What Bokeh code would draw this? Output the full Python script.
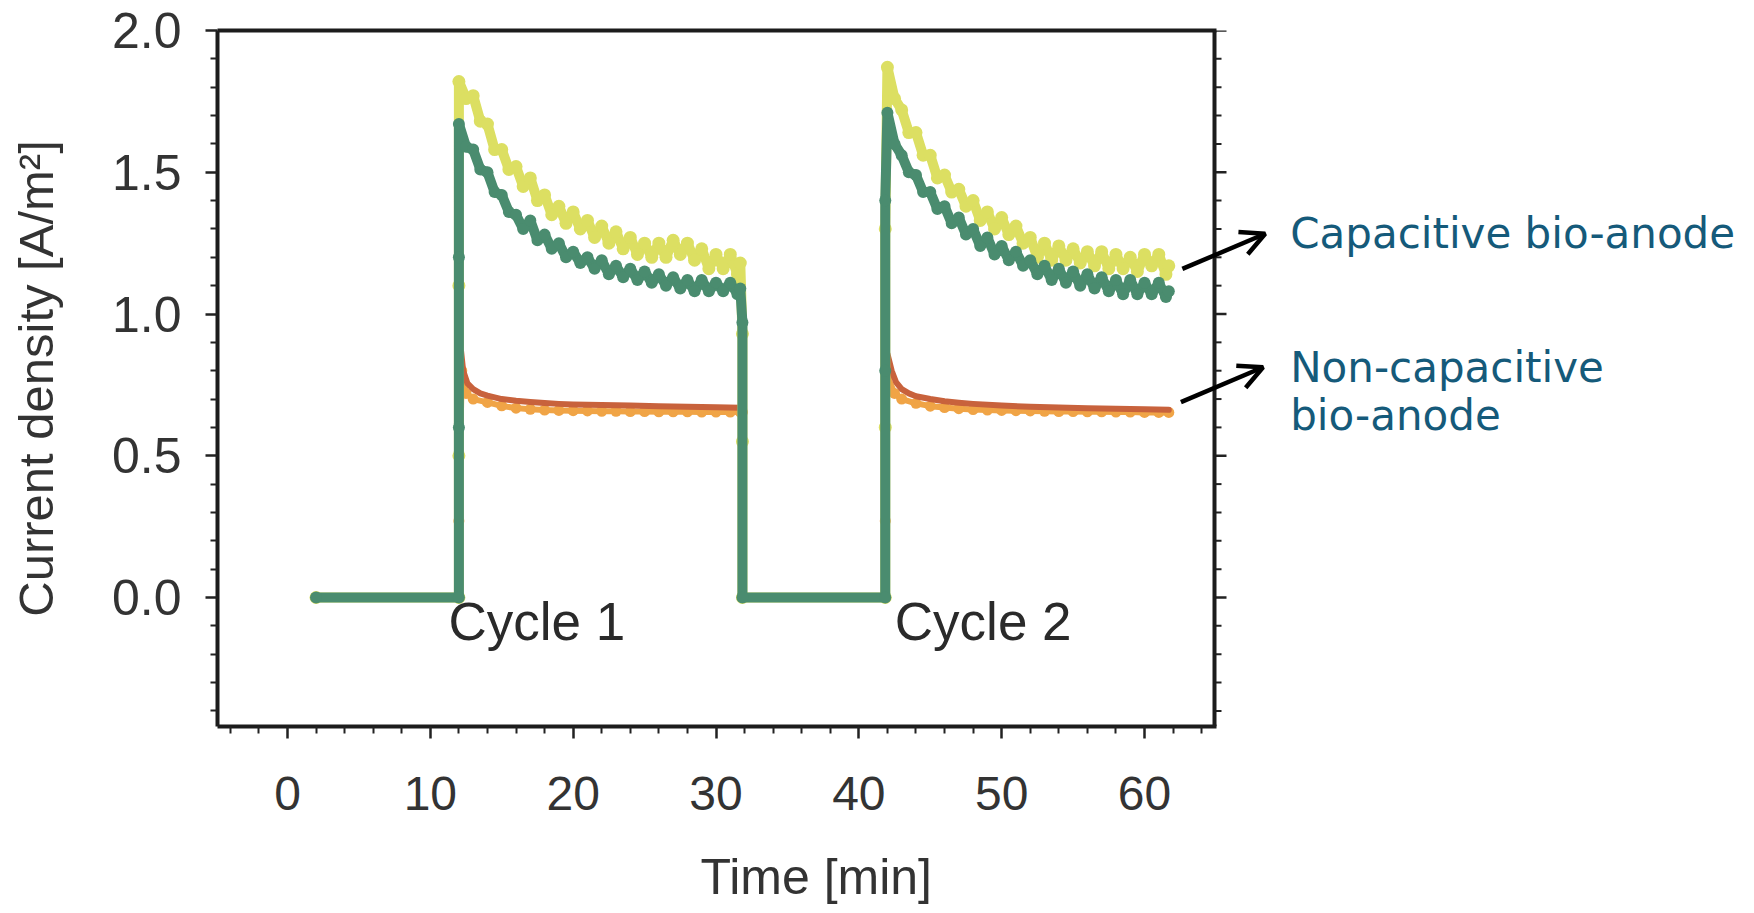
from bokeh.plotting import figure
from bokeh.models import (LinearAxis, FixedTicker, Label, Arrow, OpenHead, Range1d,
                          PrintfTickFormatter, Span, Title)
from bokeh.embed import file_html
from bokeh.resources import INLINE

# ---------------- data ----------------
x_ticks = [0, 10, 20, 30, 40, 50, 60]
x_minor = [-4, -2, 2, 4, 6, 8, 12, 14, 16, 18, 22, 24, 26, 28, 32, 34, 36, 38,
           42, 44, 46, 48, 52, 54, 56, 58, 62, 64]
y_ticks = [0.0, 0.5, 1.0, 1.5, 2.0]
y_minor = [-0.4, -0.3, -0.2, -0.1, 0.1, 0.2, 0.3, 0.4, 0.6, 0.7, 0.8, 0.9,
           1.1, 1.2, 1.3, 1.4, 1.6, 1.7, 1.8, 1.9]

# capacitive bio-anode, replicate A (yellow)
cap_a_t = [2.0, 12.0, 12.0, 12.0,
           12.0, 12.5, 13.0, 13.5, 14.0, 14.5, 15.0, 15.5, 16.0, 16.5, 17.0, 17.5,
           18.0, 18.5, 19.0, 19.5, 20.0, 20.5, 21.0, 21.5, 22.0, 22.5, 23.0, 23.5,
           24.0, 24.5, 25.0, 25.5, 26.0, 26.5, 27.0, 27.5, 28.0, 28.5, 29.0, 29.5,
           30.0, 30.5, 31.0, 31.5, 31.7,
           31.85, 31.85, 31.85, 41.85, 41.85, 41.85,
           42.0, 42.5, 43.0, 43.5, 44.0, 44.5, 45.0, 45.5, 46.0, 46.5, 47.0, 47.5,
           48.0, 48.5, 49.0, 49.5, 50.0, 50.5, 51.0, 51.5, 52.0, 52.5, 53.0, 53.5,
           54.0, 54.5, 55.0, 55.5, 56.0, 56.5, 57.0, 57.5, 58.0, 58.5, 59.0, 59.5,
           60.0, 60.5, 61.0, 61.5, 61.7]
cap_a_j = [0.0, 0.0, 0.50, 1.10,
           1.82, 1.76, 1.77, 1.68, 1.67, 1.58, 1.58, 1.51, 1.52, 1.45, 1.48, 1.40,
           1.42, 1.35, 1.38, 1.32, 1.36, 1.30, 1.33, 1.27, 1.31, 1.25, 1.29, 1.23,
           1.27, 1.21, 1.25, 1.20, 1.25, 1.20, 1.26, 1.21, 1.25, 1.19, 1.23, 1.16,
           1.21, 1.16, 1.21, 1.14, 1.18,
           0.93, 0.55, 0.0, 0.0, 0.60, 1.30,
           1.87, 1.76, 1.72, 1.64, 1.64, 1.56, 1.56, 1.48, 1.49, 1.43, 1.44, 1.38,
           1.40, 1.33, 1.36, 1.30, 1.34, 1.28, 1.31, 1.25, 1.27, 1.20, 1.25, 1.19,
           1.24, 1.19, 1.23, 1.18, 1.22, 1.17, 1.22, 1.16, 1.21, 1.16, 1.20, 1.15,
           1.21, 1.17, 1.21, 1.14, 1.17]

# capacitive bio-anode, replicate B (green)
cap_b_t = [2.0, 12.0, 12.0, 12.0,
           12.0, 12.5, 13.0, 13.5, 14.0, 14.5, 15.0, 15.5, 16.0, 16.5, 17.0, 17.5,
           18.0, 18.5, 19.0, 19.5, 20.0, 20.5, 21.0, 21.5, 22.0, 22.5, 23.0, 23.5,
           24.0, 24.5, 25.0, 25.5, 26.0, 26.5, 27.0, 27.5, 28.0, 28.5, 29.0, 29.5,
           30.0, 30.5, 31.0, 31.5, 31.7,
           31.85, 31.85, 41.85, 41.85, 41.85,
           42.0, 42.5, 43.0, 43.5, 44.0, 44.5, 45.0, 45.5, 46.0, 46.5, 47.0, 47.5,
           48.0, 48.5, 49.0, 49.5, 50.0, 50.5, 51.0, 51.5, 52.0, 52.5, 53.0, 53.5,
           54.0, 54.5, 55.0, 55.5, 56.0, 56.5, 57.0, 57.5, 58.0, 58.5, 59.0, 59.5,
           60.0, 60.5, 61.0, 61.5, 61.7]
cap_b_j = [0.0, 0.0, 0.60, 1.20,
           1.67, 1.59, 1.58, 1.51, 1.50, 1.43, 1.42, 1.36, 1.35, 1.30, 1.33, 1.26,
           1.28, 1.23, 1.25, 1.20, 1.22, 1.18, 1.20, 1.16, 1.19, 1.14, 1.17, 1.13,
           1.16, 1.12, 1.15, 1.11, 1.14, 1.10, 1.13, 1.09, 1.12, 1.08, 1.12, 1.08,
           1.11, 1.08, 1.11, 1.07, 1.09,
           0.97, 0.0, 0.0, 0.80, 1.40,
           1.71, 1.60, 1.56, 1.50, 1.49, 1.43, 1.43, 1.37, 1.38, 1.32, 1.34, 1.28,
           1.30, 1.24, 1.27, 1.21, 1.24, 1.19, 1.22, 1.17, 1.19, 1.14, 1.17, 1.12,
           1.16, 1.11, 1.15, 1.10, 1.14, 1.09, 1.13, 1.08, 1.12, 1.07, 1.12, 1.07,
           1.11, 1.07, 1.11, 1.06, 1.08]

# non-capacitive bio-anode, replicate A (orange dots)
nc_a_t = [2.0, 12.0, 12.0, 12.2, 12.5, 13.0,
          14.0, 15.0, 16.0, 17.0, 18.0, 19.0, 20.0, 21.0, 22.0, 23.0, 24.0, 25.0,
          26.0, 27.0, 28.0, 29.0, 30.0, 31.0, 31.7,
          31.85, 31.85, 41.85, 41.85,
          42.0, 42.5, 43.0,
          44.0, 45.0, 46.0, 47.0, 48.0, 49.0, 50.0, 51.0, 52.0, 53.0, 54.0, 55.0,
          56.0, 57.0, 58.0, 59.0, 60.0, 61.0, 61.7]
nc_a_j = [0.0, 0.0, 0.27, 0.80, 0.72, 0.70,
          0.688, 0.676, 0.668, 0.664, 0.661, 0.660, 0.659, 0.658, 0.657, 0.657,
          0.656, 0.656, 0.655, 0.655, 0.655, 0.654, 0.654, 0.654, 0.654,
          0.654, 0.0, 0.0, 0.27,
          0.78, 0.72, 0.70,
          0.685, 0.675, 0.670, 0.666, 0.663, 0.661, 0.660, 0.659, 0.658, 0.657,
          0.656, 0.656, 0.655, 0.655, 0.654, 0.654, 0.653, 0.653, 0.653]

# non-capacitive bio-anode, replicate B (brown line)
nc_b_t = [2.0, 12.0, 12.0, 12.15, 12.3, 12.6, 13.0, 13.5, 14.0, 15.0, 16.0, 17.0,
          18.0, 19.0, 20.0, 22.0, 24.0, 26.0, 28.0, 30.0, 31.7,
          31.85, 31.85, 41.85, 41.85,
          42.0, 42.3, 42.6, 43.0, 43.5, 44.0, 45.0, 46.0, 47.0, 48.0, 50.0, 52.0,
          54.0, 56.0, 58.0, 60.0, 61.7]
nc_b_j = [0.0, 0.0, 0.50, 0.87, 0.80, 0.755, 0.735, 0.720, 0.712, 0.700, 0.694,
          0.690, 0.686, 0.683, 0.681, 0.679, 0.677, 0.675, 0.673, 0.671, 0.669,
          0.669, 0.0, 0.0, 0.60,
          0.86, 0.80, 0.76, 0.735, 0.720, 0.710, 0.700, 0.692, 0.687, 0.683, 0.677,
          0.673, 0.670, 0.668, 0.666, 0.664, 0.662]

cycle_labels = ["Cycle 1", "Cycle 2"]
cycle_x = [11.27, 42.52]
series_labels = ["Capacitive bio-anode", "Non-capacitive", "bio-anode"]
series_label_y = [1.284, 0.813, 0.643]

# ---------------- layout constants ----------------
X_START, X_END = -4.9, 64.9          # visible axis box
Y_START, Y_END = -0.455, 2.0
BOX_W = 997                          # px width of the axis box
PX_PER_X = BOX_W / (X_END - X_START)
FRAME_W = 1531                       # frame extends right to host the annotations
X_FRAME_END = X_START + FRAME_W / PX_PER_X
CORNER = 2.0 / PX_PER_X              # half the border width, in x units

p = figure(frame_width=FRAME_W, frame_height=696,
           x_range=Range1d(X_START, X_FRAME_END), y_range=Range1d(Y_START, Y_END),
           x_axis_location=None, y_axis_location=None,
           output_backend="svg", toolbar_location=None,
           min_border_left=217, min_border_right=2,
           min_border_top=30, min_border_bottom=187)
p.grid.visible = False
p.outline_line_color = None
p.background_fill_color = "white"
p.border_fill_color = "white"

TICK_COL = "#222222"
LAB_COL = "#333333"
BOX_COL = "#1c1c1c"


def style_axis(ax):
    ax.axis_line_color = BOX_COL
    ax.axis_line_width = 4
    ax.major_tick_line_color = TICK_COL
    ax.major_tick_line_width = 2.5
    ax.major_tick_out = 12
    ax.major_tick_in = 0
    ax.minor_tick_line_color = TICK_COL
    ax.minor_tick_line_width = 2
    ax.minor_tick_out = 7
    ax.minor_tick_in = 0
    ax.major_label_text_font = "Liberation Sans"
    ax.major_label_text_font_size = "48px"
    ax.major_label_text_color = LAB_COL
    ax.axis_label_text_font = "Liberation Sans"
    ax.axis_label_text_font_style = "normal"
    ax.axis_label_text_color = LAB_COL


xb = LinearAxis(ticker=FixedTicker(ticks=x_ticks, minor_ticks=x_minor),
                bounds=(X_START - CORNER, X_END + CORNER))
style_axis(xb)
xb.major_label_standoff = 38
p.add_layout(xb, "below")

# x-axis title, centred under the axis box (the frame is wider than the box)
p.add_layout(Title(text="Time [min]", align="left", offset=483, standoff=68,
                   text_font="Liberation Sans", text_font_size="50px",
                   text_font_style="normal", text_color=LAB_COL), "below")

xt = LinearAxis(ticker=FixedTicker(ticks=[]), bounds=(X_START - CORNER, X_END + CORNER))
style_axis(xt)
xt.major_tick_out = 0
xt.minor_tick_out = 0
p.add_layout(xt, "above")

yl = LinearAxis(ticker=FixedTicker(ticks=y_ticks, minor_ticks=y_minor),
                axis_label="Current density [A/m²]",
                formatter=PrintfTickFormatter(format="%.1f"))
style_axis(yl)
yl.major_label_text_font_size = "50px"
yl.major_label_standoff = 24
yl.axis_label_text_font_size = "49px"
yl.axis_label_standoff = 46
p.add_layout(yl, "left")

# right border of the axis box, with outward ticks
p.add_layout(Span(location=X_END, dimension="height", line_color=BOX_COL, line_width=4))
maj_len = 12 / PX_PER_X
min_len = 7 / PX_PER_X
p.segment(x0=[X_END] * len(y_ticks), y0=y_ticks, x1=[X_END + maj_len] * len(y_ticks),
          y1=y_ticks, line_color=TICK_COL, line_width=2.5)
p.segment(x0=[X_END] * len(y_minor), y0=y_minor, x1=[X_END + min_len] * len(y_minor),
          y1=y_minor, line_color=TICK_COL, line_width=2)

# ---------------- series ----------------
ORANGE = "#F0A446"
BROWN = "#C8623C"
YELLOW = "#DCDF62"
GREEN = "#4A8C6F"

p.line(nc_a_t, nc_a_j, line_color=ORANGE, line_width=6, line_join="round", line_cap="round")
p.scatter(nc_a_t, nc_a_j, marker="circle", size=11, fill_color=ORANGE, line_color=None)
p.line(nc_b_t, nc_b_j, line_color=BROWN, line_width=6, line_join="round", line_cap="round")

p.line(cap_a_t, cap_a_j, line_color=YELLOW, line_width=10, line_join="round", line_cap="round")
p.scatter(cap_a_t, cap_a_j, marker="circle", size=13, fill_color=YELLOW, line_color=None)
p.line(cap_b_t, cap_b_j, line_color=GREEN, line_width=10, line_join="round", line_cap="round")
p.scatter(cap_b_t, cap_b_j, marker="circle", size=12, fill_color=GREEN, line_color=None)

# ---------------- annotations ----------------
for lab, cx in zip(cycle_labels, cycle_x):
    p.add_layout(Label(x=cx, y=-0.083, text=lab, text_font="Liberation Sans",
                       text_font_size="53px", text_color="#2a2a2a",
                       text_baseline="alphabetic", text_align="left"))

ANN_COL = "#155A7A"
for lab, ly in zip(series_labels, series_label_y):
    p.add_layout(Label(x=70.2, y=ly, text=lab, text_font="DejaVu Sans",
                       text_font_size="42px", text_color=ANN_COL,
                       text_baseline="alphabetic", text_align="left"))

p.add_layout(Arrow(end=OpenHead(size=24, line_width=4.5, line_color="black"),
                   x_start=62.65, y_start=1.159, x_end=68.45, y_end=1.283,
                   line_width=4.5, line_color="black"))
p.add_layout(Arrow(end=OpenHead(size=24, line_width=4.5, line_color="black"),
                   x_start=62.55, y_start=0.689, x_end=68.3, y_end=0.812,
                   line_width=4.5, line_color="black"))

open("out.html", "w").write(file_html(p, INLINE))
